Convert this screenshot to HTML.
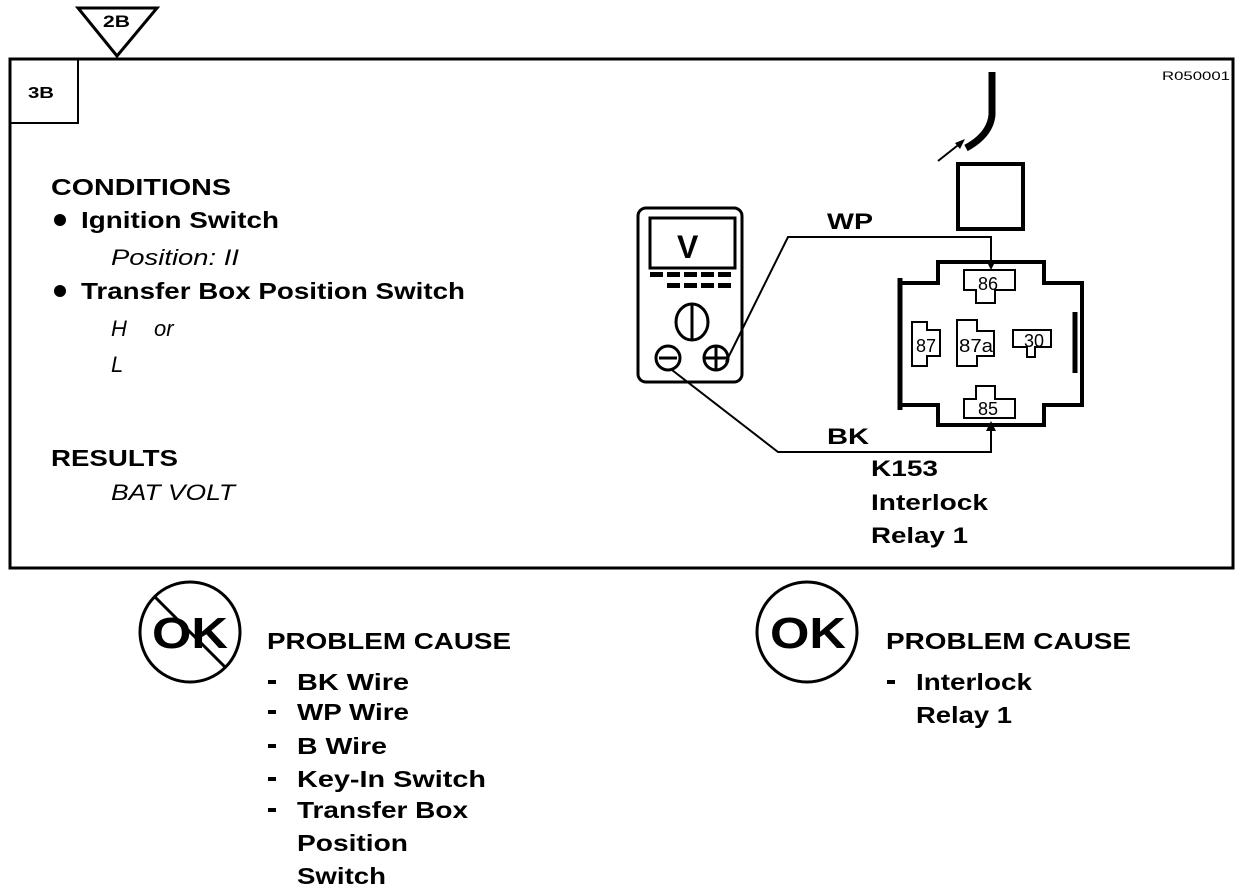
<!DOCTYPE html>
<html><head><meta charset="utf-8"><style>
html,body{margin:0;padding:0;background:#fff;}
svg{display:block;}
text{font-family:"Liberation Sans",Arial,sans-serif;font-weight:bold;fill:#000;}
.it{font-style:italic;font-weight:normal;}
</style></head><body>
<svg width="1248" height="892" viewBox="0 0 1248 892" xmlns="http://www.w3.org/2000/svg">
<polygon points="78,8 157,8 117,56" fill="#fff" stroke="#000" stroke-width="3"/>
<text x="103" y="27" font-size="17" textLength="27" lengthAdjust="spacingAndGlyphs">2B</text>
<rect x="10" y="59" width="1223" height="509" fill="none" stroke="#000" stroke-width="3"/>
<rect x="10" y="59" width="68" height="64" fill="none" stroke="#000" stroke-width="2"/>
<text x="28" y="98" font-size="16" textLength="26" lengthAdjust="spacingAndGlyphs">3B</text>
<text x="1162" y="80" font-size="12" textLength="68" lengthAdjust="spacingAndGlyphs" style="font-weight:normal">R050001</text>

<text x="51" y="195" font-size="23" textLength="180" lengthAdjust="spacingAndGlyphs">CONDITIONS</text>
<circle cx="60" cy="220" r="6"/>
<text x="81" y="228" font-size="23" textLength="198" lengthAdjust="spacingAndGlyphs">Ignition Switch</text>
<text x="111" y="265" font-size="22" class="it" textLength="128" lengthAdjust="spacingAndGlyphs">Position: II</text>
<circle cx="60" cy="291" r="6"/>
<text x="81" y="299" font-size="23" textLength="384" lengthAdjust="spacingAndGlyphs">Transfer Box Position Switch</text>
<text x="111" y="336" font-size="22" class="it">H</text>
<text x="154" y="336" font-size="22" class="it">or</text>
<text x="111" y="372" font-size="22" class="it">L</text>
<text x="51" y="466" font-size="23" textLength="127" lengthAdjust="spacingAndGlyphs">RESULTS</text>
<text x="111" y="500" font-size="22" class="it" textLength="124" lengthAdjust="spacingAndGlyphs">BAT VOLT</text>

<rect x="638" y="208" width="104" height="174" rx="8" fill="none" stroke="#000" stroke-width="3"/>
<rect x="650" y="218" width="85" height="50" fill="none" stroke="#000" stroke-width="3"/>
<text x="677" y="258" font-size="32">V</text>
<g fill="#000">
<rect x="650" y="272" width="13" height="5"/><rect x="667" y="272" width="13" height="5"/><rect x="684" y="272" width="13" height="5"/><rect x="701" y="272" width="13" height="5"/><rect x="718" y="272" width="13" height="5"/>
<rect x="667" y="283" width="13" height="5"/><rect x="684" y="283" width="13" height="5"/><rect x="701" y="283" width="13" height="5"/><rect x="718" y="283" width="13" height="5"/>
</g>
<ellipse cx="692" cy="322" rx="16" ry="18" fill="none" stroke="#000" stroke-width="3"/>
<line x1="692" y1="305" x2="692" y2="339" stroke="#000" stroke-width="3"/>
<circle cx="668" cy="358" r="12" fill="none" stroke="#000" stroke-width="3"/>
<line x1="659" y1="358" x2="677" y2="358" stroke="#000" stroke-width="3"/>
<circle cx="716" cy="358" r="12" fill="none" stroke="#000" stroke-width="3"/>
<line x1="705" y1="358" x2="727" y2="358" stroke="#000" stroke-width="3"/>
<line x1="716" y1="347" x2="716" y2="369" stroke="#000" stroke-width="3"/>

<polyline points="726,362 788,237 991,237 991,264" fill="none" stroke="#000" stroke-width="2"/>
<polygon points="986,260 996,260 991,270" fill="#000"/>
<polyline points="672,370 778,452 991,452 991,428" fill="none" stroke="#000" stroke-width="2"/>
<polygon points="986,431 996,431 991,421" fill="#000"/>
<text x="827" y="229" font-size="22" textLength="46" lengthAdjust="spacingAndGlyphs">WP</text>
<text x="827" y="444" font-size="22" textLength="42" lengthAdjust="spacingAndGlyphs">BK</text>

<path d="M992,72 L992,115 Q990,135 966,148" fill="none" stroke="#000" stroke-width="7"/>
<line x1="938" y1="161" x2="962" y2="142" stroke="#000" stroke-width="2"/>
<polygon points="965,139 955,143 960,149" fill="#000"/>
<rect x="958" y="164" width="65" height="65" fill="none" stroke="#000" stroke-width="4"/>

<path d="M938,425 L938,405 L900,405 L900,283 L938,283 L938,262 L1044,262 L1044,283 L1082,283 L1082,405 L1044,405 L1044,425 Z" fill="none" stroke="#000" stroke-width="4"/>
<line x1="900" y1="278" x2="900" y2="410" stroke="#000" stroke-width="5"/>
<line x1="1075" y1="312" x2="1075" y2="373" stroke="#000" stroke-width="5"/>
<g fill="none" stroke="#000" stroke-width="2">
<path d="M964,270 L1015,270 L1015,290 L995,290 L995,303 L976,303 L976,290 L964,290 Z"/>
<path d="M912,322 L927,322 L927,330 L940,330 L940,356 L927,356 L927,366 L912,366 Z"/>
<path d="M957,320 L977,320 L977,331 L994,331 L994,356 L977,356 L977,366 L957,366 Z"/>
<path d="M1013,330 L1051,330 L1051,347 L1035,347 L1035,357 L1027,357 L1027,347 L1013,347 Z"/>
<path d="M976,386 L995,386 L995,399 L1015,399 L1015,418 L964,418 L964,399 L976,399 Z"/>
</g>
<text x="978" y="290" font-size="18" style="font-weight:normal">86</text>
<text x="916" y="352" font-size="18" style="font-weight:normal">87</text>
<text x="959" y="352" font-size="18" style="font-weight:normal" textLength="34" lengthAdjust="spacingAndGlyphs">87a</text>
<text x="1024" y="347" font-size="18" style="font-weight:normal">30</text>
<text x="978" y="415" font-size="18" style="font-weight:normal">85</text>
<text x="871" y="476" font-size="22" textLength="67" lengthAdjust="spacingAndGlyphs">K153</text>
<text x="871" y="510" font-size="22" textLength="117" lengthAdjust="spacingAndGlyphs">Interlock</text>
<text x="871" y="543" font-size="22" textLength="97" lengthAdjust="spacingAndGlyphs">Relay 1</text>

<circle cx="190" cy="632" r="50" fill="none" stroke="#000" stroke-width="3"/>
<text x="152" y="648" font-size="44" textLength="76" lengthAdjust="spacingAndGlyphs">OK</text>
<line x1="155" y1="597" x2="225" y2="667" stroke="#000" stroke-width="3"/>
<text x="267" y="649" font-size="23" textLength="244" lengthAdjust="spacingAndGlyphs">PROBLEM CAUSE</text>
<g fill="#000">
<rect x="268" y="680" width="8" height="4"/><rect x="268" y="710" width="8" height="4"/><rect x="268" y="744" width="8" height="4"/><rect x="268" y="777" width="8" height="4"/><rect x="268" y="808" width="8" height="4"/>
<rect x="887" y="680" width="8" height="4"/>
</g>
<text x="297" y="690" font-size="23" textLength="112" lengthAdjust="spacingAndGlyphs">BK Wire</text>
<text x="297" y="720" font-size="23" textLength="112" lengthAdjust="spacingAndGlyphs">WP Wire</text>
<text x="297" y="754" font-size="23" textLength="90" lengthAdjust="spacingAndGlyphs">B Wire</text>
<text x="297" y="787" font-size="23" textLength="189" lengthAdjust="spacingAndGlyphs">Key-In Switch</text>
<text x="297" y="818" font-size="23" textLength="171" lengthAdjust="spacingAndGlyphs">Transfer Box</text>
<text x="297" y="851" font-size="23" textLength="111" lengthAdjust="spacingAndGlyphs">Position</text>
<text x="297" y="884" font-size="23" textLength="89" lengthAdjust="spacingAndGlyphs">Switch</text>

<circle cx="807" cy="632" r="50" fill="none" stroke="#000" stroke-width="3"/>
<text x="770" y="648" font-size="44" textLength="76" lengthAdjust="spacingAndGlyphs">OK</text>
<text x="886" y="649" font-size="23" textLength="245" lengthAdjust="spacingAndGlyphs">PROBLEM CAUSE</text>
<text x="916" y="690" font-size="23" textLength="116" lengthAdjust="spacingAndGlyphs">Interlock</text>
<text x="916" y="723" font-size="23" textLength="96" lengthAdjust="spacingAndGlyphs">Relay 1</text>
</svg>
</body></html>
